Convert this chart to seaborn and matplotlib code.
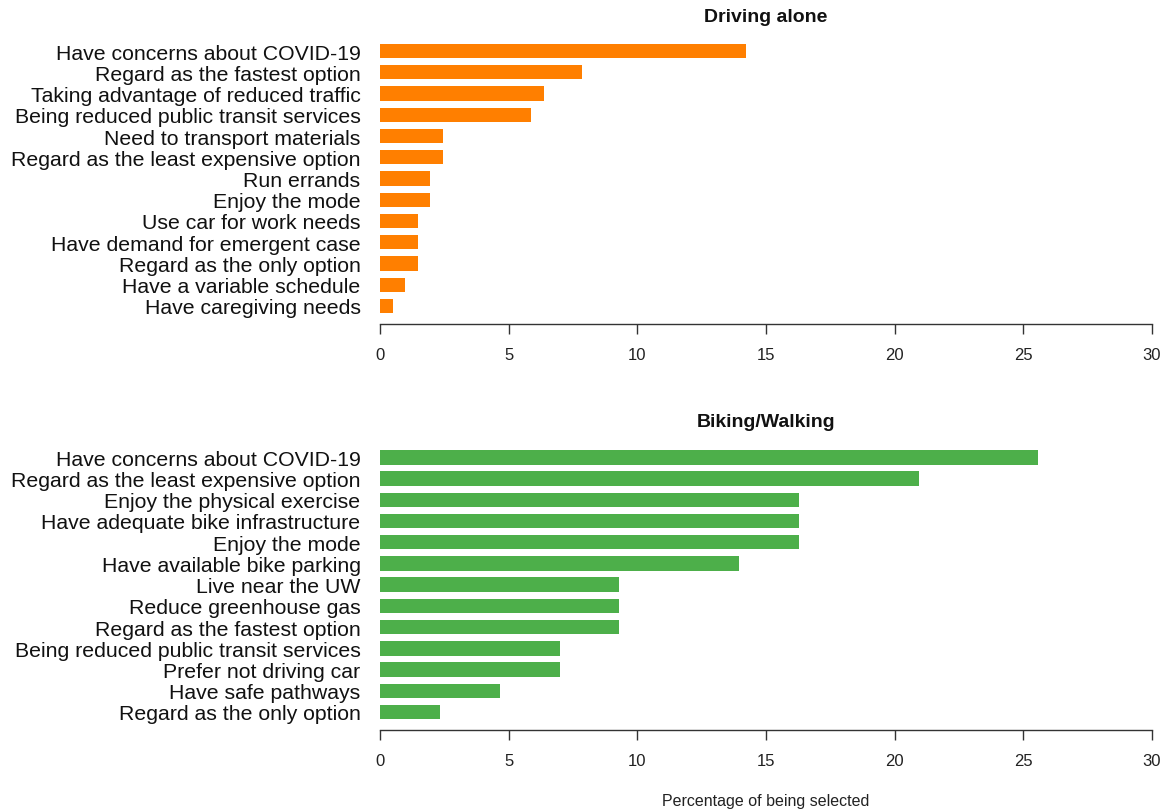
import pandas as pd
import matplotlib
matplotlib.use("Agg")
import matplotlib.pyplot as plt
import seaborn as sns

# Data (percentage of respondents selecting each reason)
driving_reasons = [
    "Have concerns about COVID-19",
    "Regard as the fastest option",
    "Taking advantage of reduced traffic",
    "Being reduced public transit services",
    "Need to transport materials",
    "Regard as the least expensive option",
    "Run errands",
    "Enjoy the mode",
    "Use car for work needs",
    "Have demand for emergent case",
    "Regard as the only option",
    "Have a variable schedule",
    "Have caregiving needs",
]
driving_pct = [14.22, 7.84, 6.37, 5.88, 2.45, 2.45, 1.96, 1.96, 1.47, 1.47, 1.47, 0.98, 0.49]

biking_reasons = [
    "Have concerns about COVID-19",
    "Regard as the least expensive option",
    "Enjoy the physical exercise",
    "Have adequate bike infrastructure",
    "Enjoy the mode",
    "Have available bike parking",
    "Live near the UW",
    "Reduce greenhouse gas",
    "Regard as the fastest option",
    "Being reduced public transit services",
    "Prefer not driving car",
    "Have safe pathways",
    "Regard as the only option",
]
biking_pct = [25.58, 20.93, 16.28, 16.28, 16.28, 13.95, 9.30, 9.30, 9.30, 6.98, 6.98, 4.65, 2.33]

x_ticks = [0, 5, 10, 15, 20, 25, 30]

sns.set_theme(style="white")
plt.rcParams["font.family"] = ["Liberation Sans", "DejaVu Sans"]

fig = plt.figure(figsize=(11.68, 8.12), dpi=100)
W, H = 1168.0, 812.0

panels = [
    ("Driving alone", driving_reasons, driving_pct, "#FF7F00", 41.4, 317.6, 18),
    ("Biking/Walking", biking_reasons, biking_pct, "#4DAF4A", 447.7, 723.6, 423),
]

for title, reasons, pct, color, top_px, bot_px, title_px in panels:
    ax = fig.add_axes([380.0 / W, 1 - bot_px / H, (1152 - 380.0) / W, (bot_px - top_px) / H])
    df = pd.DataFrame({"reason": reasons, "pct": pct})
    sns.barplot(data=df, x="pct", y="reason", color=color, width=0.68,
                saturation=1, orient="h", linewidth=0, ax=ax)
    ax.set_xlim(0, 30)
    ax.set_ylim(len(reasons) - 0.5, -0.5)
    ax.set_xticks(x_ticks)
    ax.set_xlabel("")
    ax.set_ylabel("")
    for side in ["top", "right", "left"]:
        ax.spines[side].set_visible(False)
    ax.spines["bottom"].set_position(("outward", 5))
    ax.spines["bottom"].set_bounds(0, 30)
    ax.spines["bottom"].set_color("#333333")
    ax.spines["bottom"].set_linewidth(1.0)
    ax.tick_params(axis="x", length=7, width=1.0, color="#333333",
                   labelsize=12, pad=10, bottom=True, labelcolor="#222222")
    ax.tick_params(axis="y", length=0, labelsize=15.3, pad=14, labelcolor="#111111")
    ax.grid(False)
    fig.text(766 / W, 1 - title_px / H, title, ha="center", va="center",
             fontsize=14, fontweight="bold", color="#111111")

fig.text(766 / W, 1 - 806 / H, "Percentage of being selected", ha="center",
         va="baseline", fontsize=11.5, color="#222222")

fig.savefig("out.png", dpi=100, facecolor="white")
